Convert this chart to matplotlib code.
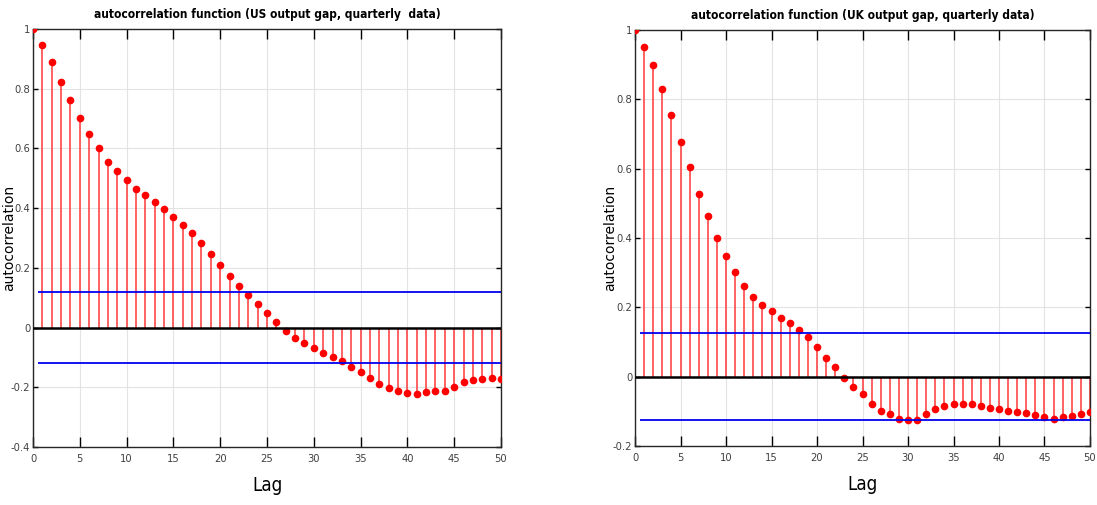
import matplotlib
matplotlib.use("Agg")
import matplotlib.pyplot as plt
import numpy as np
from matplotlib.ticker import FuncFormatter

# lags 0..50
lags = np.arange(51)

# sample autocorrelations
us_acf = [1.0, 0.948, 0.888, 0.824, 0.761, 0.702, 0.648, 0.60, 0.554, 0.524,
          0.494, 0.464, 0.443, 0.42, 0.396, 0.369, 0.343, 0.318, 0.284, 0.248,
          0.211, 0.173, 0.14, 0.11, 0.08, 0.05, 0.019, -0.01, -0.034, -0.053,
          -0.07, -0.086, -0.098, -0.113, -0.131, -0.149, -0.17, -0.188, -0.203, -0.212,
          -0.218, -0.221, -0.216, -0.214, -0.212, -0.198, -0.184, -0.176, -0.172, -0.17,
          -0.172]
uk_acf = [1.0, 0.951, 0.90, 0.829, 0.754, 0.676, 0.606, 0.528, 0.463, 0.401,
          0.348, 0.301, 0.263, 0.229, 0.206, 0.19, 0.168, 0.154, 0.134, 0.115,
          0.086, 0.055, 0.028, -0.003, -0.029, -0.049, -0.078, -0.1, -0.109, -0.122,
          -0.125, -0.125, -0.109, -0.094, -0.084, -0.078, -0.078, -0.078, -0.084, -0.089,
          -0.093, -0.099, -0.102, -0.105, -0.11, -0.116, -0.122, -0.116, -0.113, -0.107,
          -0.102]

# confidence bounds
us_bound = 0.12
uk_bound = 0.126

titles = ["autocorrelation function (US output gap, quarterly  data)",
          "autocorrelation function (UK output gap, quarterly data)"]
ylims = [(-0.4, 1.0), (-0.2, 1.0)]


def acf_panel(ax, acf, bound, title, ylim, ylab_x):
    ax.grid(True, color="#e3e3e3", lw=0.8)
    ax.set_axisbelow(True)
    ax.vlines(lags, 0, acf, color="#ff4848", lw=1.2, zorder=2)
    ax.plot(lags, acf, "o", color="#ff0000", ms=4.5, zorder=3)
    ax.hlines([bound, -bound], 0.5, 50, color="#0000ee", lw=1.3, zorder=4)
    ax.hlines(0, 0, 50, color="black", lw=1.8, zorder=4)

    ax.set_xlim(0, 50)
    ax.set_ylim(*ylim)
    ax.set_xticks(np.arange(0, 51, 5))
    ax.set_yticks(np.arange(ylim[0], 1.0001, 0.2))
    ax.yaxis.set_major_formatter(FuncFormatter(lambda v, p: "%g" % round(v, 1)))

    ax.tick_params(axis="x", direction="in", length=7, width=1, top=True,
                   labelsize=8, labelcolor="#404040", pad=5)
    ax.tick_params(axis="y", direction="in", length=3.5, width=1, right=True,
                   labelsize=8, labelcolor="#404040", pad=2)
    for lab in ax.get_xticklabels() + ax.get_yticklabels():
        lab.set_fontstretch("condensed")
    for s in ax.spines.values():
        s.set_color("#262626")
        s.set_linewidth(1.0)

    ax.set_title(title, fontsize=8.6, fontweight="bold", fontstretch="condensed", pad=8)
    ax.set_xlabel("Lag", fontsize=13.5, fontstretch="condensed", labelpad=9)
    ax.set_ylabel("autocorrelation", fontsize=10, family="DejaVu Sans")
    ax.yaxis.set_label_coords(ylab_x, 0.5)


fig = plt.figure(figsize=(10.97, 5.05), dpi=100)
ax1 = fig.add_axes([0.0301, 0.1149, 0.4266, 0.8277])
ax2 = fig.add_axes([0.5789, 0.1168, 0.4147, 0.8238])

acf_panel(ax1, us_acf, us_bound, titles[0], ylims[0], -0.036)
acf_panel(ax2, uk_acf, uk_bound, titles[1], ylims[1], -0.040)

fig.savefig("out.png", dpi=100)
